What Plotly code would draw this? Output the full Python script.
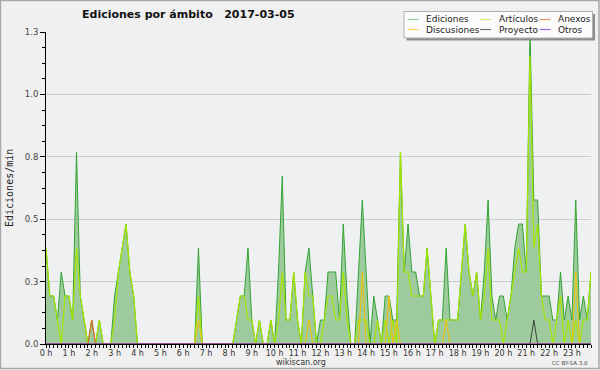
import pandas as pd
import plotly.graph_objects as go

# ---------------- data ----------------
times = pd.date_range("2017-03-05 00:00", periods=144, freq="10min")

ediciones = [
    0.4, 0.2, 0.2, 0.1, 0.3, 0.2, 0.2, 0.1, 0.8, 0.2, 0.1, 0,
    0.1, 0, 0.1, 0, 0, 0, 0.2, 0.3, 0.4, 0.5, 0.3, 0.2,
    0, 0, 0, 0, 0, 0, 0, 0, 0, 0, 0, 0,
    0, 0, 0, 0, 0.4, 0, 0, 0, 0, 0, 0, 0,
    0, 0, 0.1, 0.2, 0.2, 0.4, 0.1, 0, 0.1, 0, 0, 0.1,
    0, 0.3, 0.7, 0.1, 0.1, 0.3, 0.1, 0, 0.3, 0.4, 0.2, 0,
    0.1, 0.1, 0.3, 0.3, 0.3, 0.1, 0.5, 0.2, 0, 0, 0.3, 0.6,
    0.3, 0, 0.2, 0.1, 0, 0.2, 0.2, 0.1, 0.1, 0.8, 0.3, 0.5,
    0.3, 0.3, 0.2, 0.2, 0.4, 0.2, 0, 0.1, 0.1, 0.4, 0.1, 0.1,
    0.1, 0.3, 0.5, 0.3, 0.2, 0.3, 0.1, 0.3, 0.6, 0.2, 0.1, 0.2,
    0.2, 0.1, 0.2, 0.4, 0.5, 0.5, 0.3, 1.3, 0.6, 0.6, 0.2, 0.2,
    0.2, 0.1, 0.1, 0.3, 0.1, 0.2, 0.1, 0.6, 0.1, 0.2, 0.1, 0.3,
]

articulos = [
    0.4, 0.2, 0.2, 0.1, 0, 0.2, 0.2, 0.1, 0.4, 0.2, 0.1, 0,
    0, 0, 0.1, 0, 0, 0, 0.1, 0.3, 0.4, 0.5, 0.3, 0.2,
    0, 0, 0, 0, 0, 0, 0, 0, 0, 0, 0, 0,
    0, 0, 0, 0, 0.2, 0, 0, 0, 0, 0, 0, 0,
    0, 0, 0.1, 0.2, 0.2, 0.1, 0.1, 0, 0.1, 0, 0, 0.1,
    0, 0.1, 0.3, 0.1, 0.1, 0.3, 0.1, 0, 0.3, 0.2, 0.2, 0,
    0, 0.1, 0.2, 0.2, 0.1, 0.1, 0.3, 0.1, 0, 0, 0.1, 0.1,
    0.1, 0, 0, 0.1, 0, 0.1, 0, 0.1, 0, 0.8, 0.3, 0.3,
    0.2, 0.2, 0.2, 0.2, 0.4, 0.2, 0, 0.1, 0.1, 0.1, 0.1, 0.1,
    0.1, 0.3, 0.5, 0.3, 0.2, 0.3, 0.1, 0.2, 0.4, 0.1, 0.1, 0.1,
    0, 0.1, 0.2, 0.3, 0.4, 0.3, 0.3, 1.2, 0.4, 0.5, 0.2, 0.1,
    0.1, 0, 0.1, 0.2, 0, 0.1, 0, 0.1, 0, 0.1, 0.1, 0.3,
]

# sparse series: (10-minute slot index, value)
discusiones_pos = [40, 69, 83, 90, 92, 105, 139]
discusiones_val = [0.1, 0.1, 0.3, 0.2, 0.1, 0.1, 0.3]
anexos_pos = [12]
anexos_val = [0.1]
proyecto_pos = [128]
proyecto_val = [0.1]
otros_pos = []
otros_val = []

hour_labels = [f"{h} h" for h in range(24)]
y_tickvals = [0, 0.26, 0.52, 0.78, 1.04, 1.3]
y_ticktext = ["0.0", "0.3", "0.5", "0.8", "1.0", "1.3"]

legend_rows = [["Ediciones", "Artículos", "Anexos"],
               ["Discusiones", "Proyecto", "Otros"]]


def spread(pos, val):
    s = [0.0] * len(times)
    for p, v in zip(pos, val):
        s[p] = v
    return s


discusiones = spread(discusiones_pos, discusiones_val)
anexos = spread(anexos_pos, anexos_val)
proyecto = spread(proyecto_pos, proyecto_val)
otros = spread(otros_pos, otros_val)

# ---------------- styling ----------------
W, H = 600, 370
L, R, T, B = 46, 9, 32, 26
PW, PH = W - L - R, H - T - B


def px(x):
    return (x - L) / PW


def py(y):
    return (H - B - y) / PH


line_colors = {
    "Ediciones": "#34a334",
    "Artículos": "#a6e400",
    "Discusiones": "#f2c200",
    "Anexos": "#f06010",
    "Proyecto": "#404040",
    "Otros": "#9040f0",
}
legend_colors = {
    "Ediciones": "#8fd08f",
    "Artículos": "#cdee77",
    "Anexos": "#f09868",
    "Discusiones": "#f8d468",
    "Proyecto": "#707070",
    "Otros": "#9a66ee",
}

fig = go.Figure()
fig.add_trace(go.Scatter(
    x=times, y=ediciones, name="Ediciones", mode="lines",
    line=dict(color=line_colors["Ediciones"], width=1),
    fill="tozeroy", fillcolor="#9ecb9e", showlegend=False, hoverinfo="skip"))
for name, ys in [("Artículos", articulos), ("Discusiones", discusiones),
                 ("Anexos", anexos), ("Proyecto", proyecto), ("Otros", otros)]:
    fig.add_trace(go.Scatter(
        x=times, y=ys, name=name, mode="lines",
        line=dict(color=line_colors[name], width=1.2 if name == "Artículos" else 1),
        showlegend=False, hoverinfo="skip"))

shapes = []
annotations = []

# outer frame
shapes.append(dict(type="rect", xref="paper", yref="paper",
                   x0=px(0.5), x1=px(599), y0=py(0.5), y1=py(368.5),
                   line=dict(color="#a8a8a8", width=1.5), fillcolor="rgba(0,0,0,0)",
                   layer="above"))

# legend box with shadow
shapes.append(dict(type="rect", xref="paper", yref="paper",
                   x0=px(406.5), x1=px(595), y0=py(14), y1=py(40.5),
                   line=dict(width=0), fillcolor="#8c8c8c", layer="above"))
shapes.append(dict(type="rect", xref="paper", yref="paper",
                   x0=px(404), x1=px(592.5), y0=py(11.5), y1=py(38),
                   line=dict(color="#b0b0b0", width=1), fillcolor="#fcfcfc",
                   layer="above"))

col_line_x = [(407.5, 418.5), (480, 491), (539.5, 550.5)]
col_text_x = [424, 496.5, 555.5]
row_y = [19.5, 29.5]
for r, row in enumerate(legend_rows):
    for c, name in enumerate(row):
        x0, x1 = col_line_x[c]
        shapes.append(dict(type="line", xref="paper", yref="paper",
                           x0=px(x0), x1=px(x1), y0=py(row_y[r]), y1=py(row_y[r]),
                           line=dict(color=legend_colors[name], width=1.2),
                           layer="above"))
        annotations.append(dict(xref="paper", yref="paper", x=px(col_text_x[c]),
                                y=py(row_y[r]), text=name, showarrow=False,
                                xanchor="left", yanchor="middle",
                                font=dict(family="DejaVu Sans", size=9, color="#222")))

# title
annotations.append(dict(xref="paper", yref="paper", x=px(188.5), y=py(15),
                        text="<b>Ediciones por ámbito   2017-03-05</b>",
                        showarrow=False, xanchor="center", yanchor="middle",
                        font=dict(family="DejaVu Sans", size=11, color="#111")))
# y-axis title
annotations.append(dict(xref="paper", yref="paper", x=px(9), y=py(188),
                        text="Ediciones/min", textangle=-90, showarrow=False,
                        xanchor="center", yanchor="middle",
                        font=dict(family="DejaVu Sans Mono", size=10, color="#222")))
# footer
annotations.append(dict(xref="paper", yref="paper", x=px(301), y=py(362.5),
                        text="wikiscan.org", showarrow=False,
                        xanchor="center", yanchor="middle",
                        font=dict(family="DejaVu Sans", size=8, color="#333")))
annotations.append(dict(xref="paper", yref="paper", x=px(590), y=py(363),
                        text="CC BY-SA 3.0", showarrow=False,
                        xanchor="right", yanchor="middle",
                        font=dict(family="DejaVu Sans", size=5.5, color="#444")))

fig.update_layout(
    width=W, height=H,
    margin=dict(l=L, r=R, t=T, b=B, pad=0),
    paper_bgcolor="#f0f0f0",
    plot_bgcolor="#eef0f2",
    showlegend=False,
    hovermode=False,
    shapes=shapes,
    annotations=annotations,
    xaxis=dict(
        type="date",
        range=[times[0], times[-1]],
        tickmode="array", tickvals=list(times[::6]), ticktext=hour_labels,
        ticks="outside", ticklen=3, tickcolor="#000", tickwidth=1,
        showline=True, linecolor="#000", linewidth=1,
        showgrid=False, zeroline=False,
        tickfont=dict(family="DejaVu Sans", size=8, color="#333"),
        ticklabelstandoff=-2,
        minor=dict(dtick=600000, tick0=times[0], ticks="outside", ticklen=3,
                   tickcolor="#000", tickwidth=1, showgrid=False),
        fixedrange=True,
    ),
    yaxis=dict(
        range=[0, 1.3],
        tickmode="array", tickvals=y_tickvals, ticktext=y_ticktext,
        ticks="outside", ticklen=5, tickcolor="#000", tickwidth=1,
        showline=True, linecolor="#000", linewidth=1,
        showgrid=True, gridcolor="#cccccc", gridwidth=1, zeroline=False,
        tickfont=dict(family="DejaVu Sans", size=8.5, color="#444"),
        minor=dict(dtick=0.065, tick0=0, ticks="outside", ticklen=3,
                   tickcolor="#000", tickwidth=1, showgrid=False),
        fixedrange=True,
    ),
)

fig.write_html(
    "out.html",
    config={"displayModeBar": False},
    post_script="document.body.style.margin='0';document.body.style.overflow='hidden';",
)
